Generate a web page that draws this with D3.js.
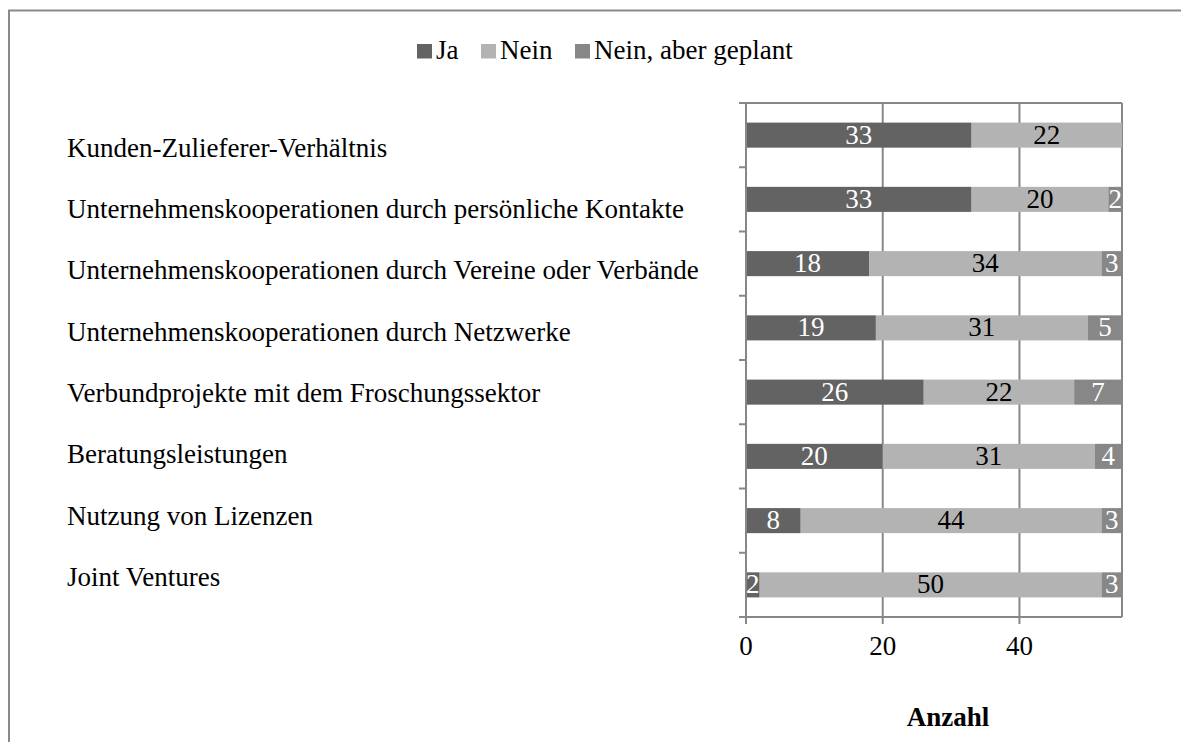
<!DOCTYPE html>
<html>
<head>
<meta charset="utf-8">
<script src="https://cdn.jsdelivr.net/npm/d3@7"></script>
<style>
  body { margin: 0; background: #fff; }
  text { font-family: "Liberation Serif", "Times New Roman", serif; }
</style>
</head>
<body>
<div id="chart"></div>
<script>
// categories top to bottom
const categories = [
  "Kunden-Zulieferer-Verhältnis",
  "Unternehmenskooperationen durch persönliche Kontakte",
  "Unternehmenskooperationen durch Vereine oder Verbände",
  "Unternehmenskooperationen durch Netzwerke",
  "Verbundprojekte mit dem Froschungssektor",
  "Beratungsleistungen",
  "Nutzung von Lizenzen",
  "Joint Ventures"
]
const seriesNames = ["Ja", "Nein", "Nein, aber geplant"]
const ja      = [33, 33, 18, 19, 26, 20, 8, 2]
const nein    = [22, 20, 34, 31, 22, 31, 44, 50]
const geplant = [0, 2, 3, 5, 7, 4, 3, 3]
const xTicks  = [0, 20, 40]
const xMax    = 55
const axisTitle = "Anzahl"

const W = 1181, H = 742
const colors = ["#636363", "#b3b3b3", "#878787"]
const textColors = ["#fff", "#000", "#fff"]
const fs = 27

const svg = d3.select("#chart").append("svg")
    .attr("width", W).attr("height", H)

// outer frame (only left and top visible)
svg.append("rect")
    .attr("x", 9).attr("y", 10.5)
    .attr("width", W + 20).attr("height", H + 20)
    .attr("fill", "none").attr("stroke", "#8a8a8a").attr("stroke-width", 2)

const plot = {left: 746, right: 1122, top: 103, bottom: 617}

const x = d3.scaleLinear().domain([0, xMax]).range([plot.left, plot.right])
const y = d3.scaleBand().domain(categories).range([plot.top, plot.bottom]).paddingInner(0.61).paddingOuter(0.305)
const yLabel = d3.scalePoint().domain(categories).range([156.5, 586])

const rows = categories.map((c, i) => ({cat: c, Ja: ja[i], Nein: nein[i], "Nein, aber geplant": geplant[i]}))
const stacked = d3.stack().keys(seriesNames)(rows)

// gridlines
svg.append("g").selectAll("line")
    .data(xTicks.slice(1).concat([xMax]))
    .join("line")
    .attr("x1", d => x(d)).attr("x2", d => x(d))
    .attr("y1", plot.top).attr("y2", plot.bottom)
    .attr("stroke", "#878787").attr("stroke-width", 2)
svg.append("line")
    .attr("x1", plot.left).attr("x2", plot.right)
    .attr("y1", plot.top).attr("y2", plot.top)
    .attr("stroke", "#878787").attr("stroke-width", 2)

// bars
const groups = svg.append("g").selectAll("g")
    .data(stacked)
    .join("g")
    .attr("fill", (d, i) => colors[i])

groups.selectAll("rect")
    .data(d => d.filter(s => s[1] - s[0] > 0))
    .join("rect")
    .attr("x", d => x(d[0]))
    .attr("width", d => x(d[1]) - x(d[0]))
    .attr("y", d => y(d.data.cat))
    .attr("height", y.bandwidth())

// value labels
stacked.forEach((s, i) => {
  svg.append("g").selectAll("text")
    .data(s.filter(d => d[1] - d[0] > 0))
    .join("text")
    .attr("x", d => (x(d[0]) + x(d[1])) / 2)
    .attr("y", d => y(d.data.cat) + y.bandwidth() / 2 + 8.5)
    .attr("text-anchor", "middle")
    .attr("font-size", fs)
    .attr("fill", textColors[i])
    .text(d => d[1] - d[0])
})

// y axis
const yAxis = svg.append("g")
svg.append("line")
    .attr("x1", plot.left).attr("x2", plot.left)
    .attr("y1", plot.top).attr("y2", plot.bottom + 7)
    .attr("stroke", "#878787").attr("stroke-width", 2)
const bounds = d3.range(categories.length + 1).map(i => plot.top + i * y.step())
yAxis.selectAll("line")
    .data(bounds)
    .join("line")
    .attr("x1", plot.left - 7).attr("x2", plot.left)
    .attr("y1", d => d).attr("y2", d => d)
    .attr("stroke", "#878787").attr("stroke-width", 2)

svg.append("g").selectAll("text")
    .data(categories)
    .join("text")
    .attr("x", 67)
    .attr("y", d => yLabel(d))
    .attr("font-size", fs)
    .attr("fill", "#000")
    .text(d => d)

// x axis
svg.append("line")
    .attr("x1", plot.left - 7).attr("x2", plot.right)
    .attr("y1", plot.bottom).attr("y2", plot.bottom)
    .attr("stroke", "#878787").attr("stroke-width", 2)
const xAx = svg.append("g")
xAx.selectAll("line")
    .data(xTicks)
    .join("line")
    .attr("x1", d => x(d)).attr("x2", d => x(d))
    .attr("y1", plot.bottom).attr("y2", plot.bottom + 7)
    .attr("stroke", "#878787").attr("stroke-width", 2)
xAx.selectAll("text")
    .data(xTicks)
    .join("text")
    .attr("x", d => x(d))
    .attr("y", 655)
    .attr("text-anchor", "middle")
    .attr("font-size", fs)
    .text(d => d)

svg.append("text")
    .attr("x", 948).attr("y", 726)
    .attr("text-anchor", "middle")
    .attr("font-size", fs)
    .attr("font-weight", "bold")
    .text(axisTitle)

// legend
const legendX = [417, 481, 575]
const legend = svg.append("g").selectAll("g")
    .data(seriesNames)
    .join("g")
    .attr("transform", (d, i) => `translate(${legendX[i]},44)`)
legend.append("rect")
    .attr("width", 15).attr("height", 14.5)
    .attr("fill", (d, i) => colors[i])
legend.append("text")
    .attr("x", 19).attr("y", 15)
    .attr("font-size", fs)
    .text(d => d)
</script>
</body>
</html>
